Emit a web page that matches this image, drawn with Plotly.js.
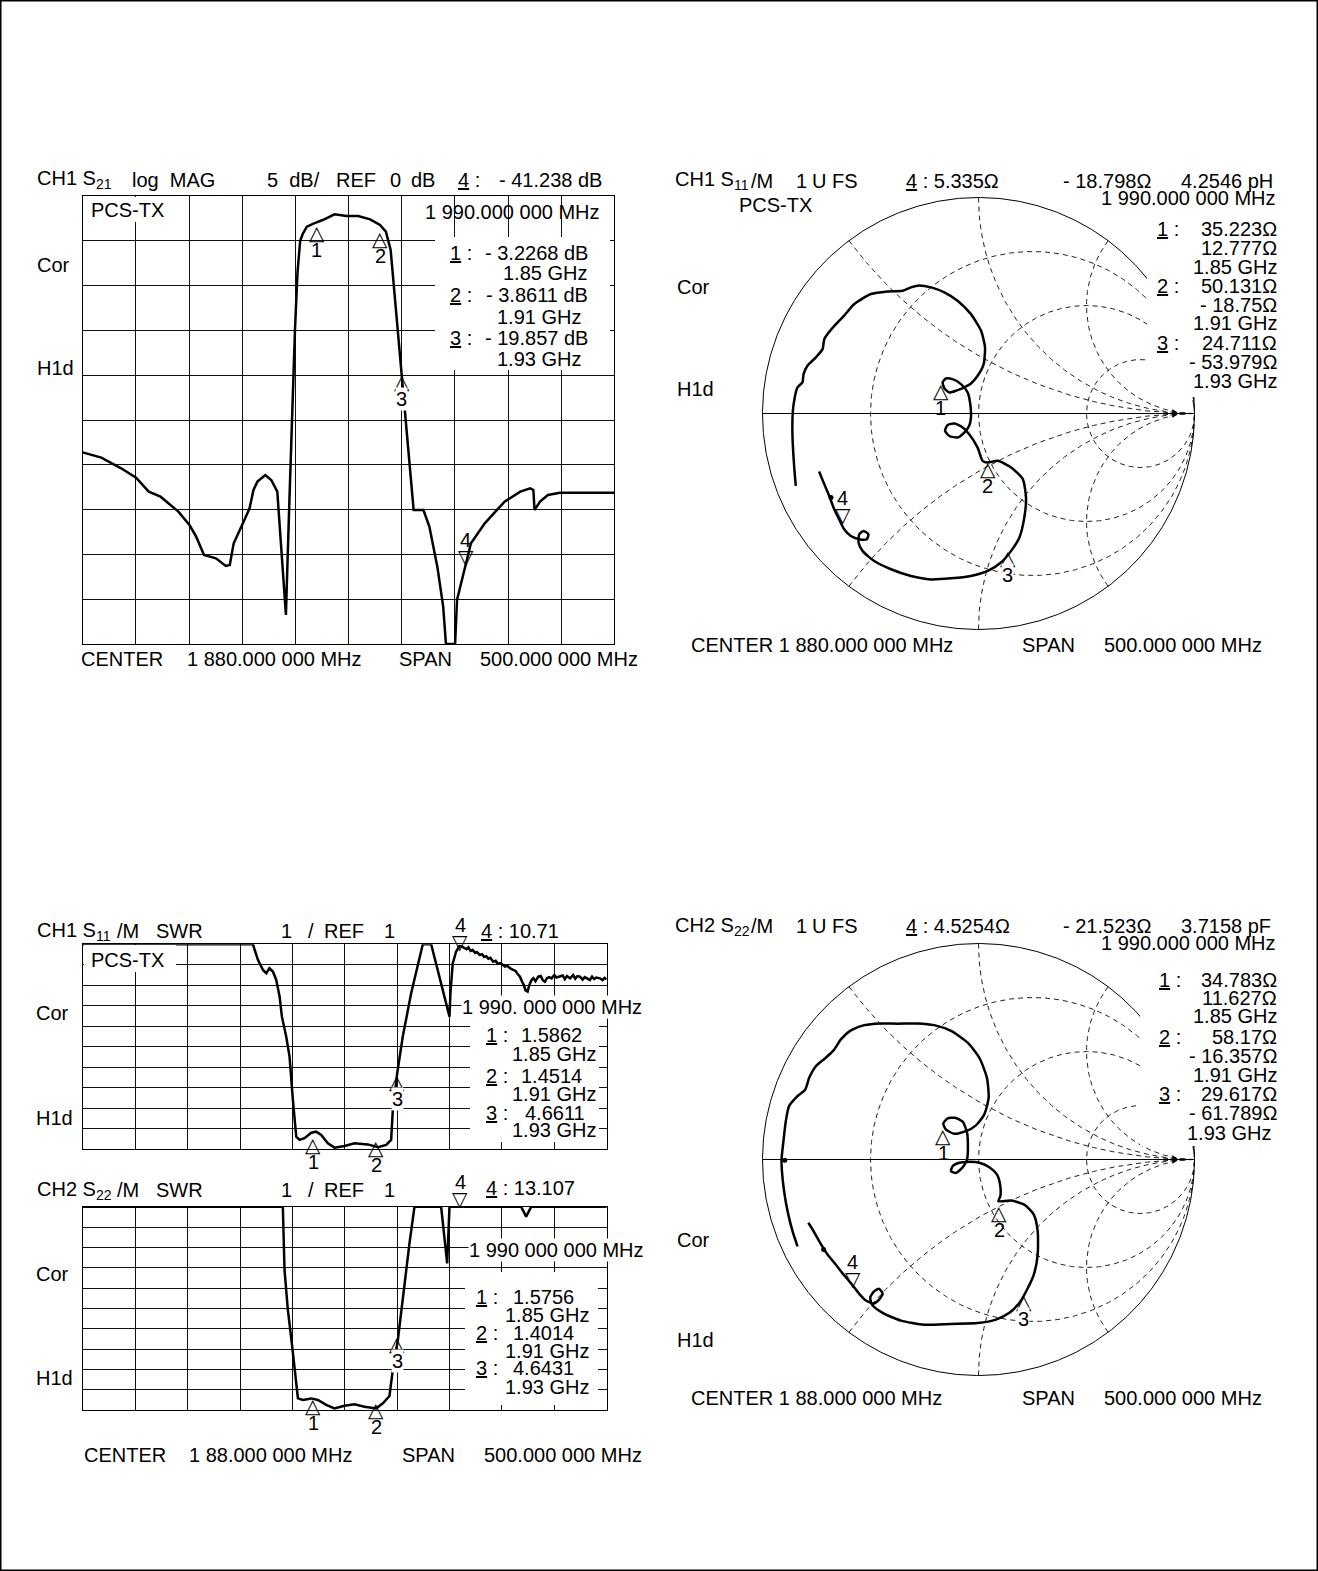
<!DOCTYPE html>
<html><head><meta charset="utf-8">
<script src="https://cdn.plot.ly/plotly-3.0.1.min.js"></script>
<style>body{margin:0;background:#fff}#chart{width:1318px;height:1571px}</style>
</head><body><div id="chart"></div>
<script>
// ---------------- DATA ----------------
// CH1 S21 log MAG (MHz, dB)
const s21Freq = [1630,1647.5,1666.1,1680.2,1692.1,1703.2,1720.0,1730.4,1736.7,1744.1,1755.3,1764.6,1768.3,1772.0,1781.3,1786.9,1790.6,1794.3,1801.7,1807.3,1813.0,1821.1,1824.1,1826.7,1829.6,1832.0,1834.5,1837.1,1840.8,1847.5,1855.7,1866.8,1878.0,1889.1,1900.3,1909.6,1915.1,1919.6,1924.4,1930.0,1932.6,1935.6,1941.2,1950.4,1956.0,1963.5,1969.0,1971.6,1980.2,1982.0,1990.0,1995.1,2008.1,2026.7,2041.5,2050.8,2053.8,2054.9,2060.1,2067.5,2078.7,2130];
const s21Db   = [-28.61,-29.20,-30.39,-31.44,-33.00,-33.56,-35.23,-36.72,-38.02,-40.07,-40.44,-41.29,-41.18,-38.76,-36.35,-34.86,-32.81,-31.88,-31.14,-31.70,-33.00,-46.76,-35.0,-25.0,-15.0,-8.5,-5.0,-4.2,-3.42,-3.05,-2.68,-2.05,-2.23,-2.23,-2.60,-3.24,-3.98,-6.03,-12.35,-19.79,-23.88,-27.60,-35.04,-35.04,-36.90,-41.37,-45.83,-50,-50,-45.09,-41.10,-38.76,-36.53,-34.11,-33.00,-32.63,-32.81,-35.04,-34.11,-33.37,-33.11,-33.11];
const s21MarkFreq = [1850,1910,1930,1990];
const s21MarkDb   = [-3.2268,-3.8611,-19.857,-41.238];

// CH1 S11 SWR (MHz, SWR)
const s11SwrFreq = [1630,1792.2,1797,1801.8,1805,1808,1811.3,1814.5,1817.7,1819.9,1824,1827.2,1830.4,1833.6,1836.7,1841.5,1847.9,1852.6,1857.4,1863.8,1870.1,1879.7,1889.2,1902,1911.5,1919.5,1924.2,1925.8,1930,1935.3,1943.3,1949.7,1954.4,1962.4,1979.9,1980.8,1983,1986.2,1989.4,1991.5,1994,1996.2,1998,2000,2002,2004.5,2006,2008.9,2011,2013,2015,2017,2019,2021.6,2024,2026,2029,2032.8,2035,2038,2040.8,2043,2045,2047.2,2049,2051,2052.5,2054.5,2056,2058.3,2060,2062,2064.7,2067,2069,2071,2073,2075,2077.4,2080,2082,2085.4,2088,2090,2092,2095,2098,2100,2102,2104.5,2107,2109,2112,2114,2116,2118,2120,2123.6,2126,2128,2130];
const s11Swr     = [11,11,10.24,9.75,9.59,9.83,9.67,9.26,8.45,7.47,6.5,5.52,3.41,1.62,1.46,1.54,1.81,1.86,1.70,1.29,1.08,1.16,1.29,1.24,1.10,1.21,1.46,2.92,4.71,6.5,8.61,10.07,11,11,7.47,8.61,10.07,10.64,10.92,10.90,10.82,10.76,10.85,10.68,10.72,10.58,10.62,10.48,10.52,10.38,10.42,10.30,10.34,10.15,10.20,10.05,10.08,9.91,9.95,9.82,9.75,9.70,9.55,9.42,9.20,9.00,8.75,8.69,9.00,9.26,9.35,9.20,9.42,9.45,9.25,9.18,9.35,9.40,9.34,9.50,9.38,9.42,9.48,9.30,9.45,9.34,9.50,9.32,9.45,9.42,9.28,9.40,9.30,9.26,9.42,9.30,9.38,9.34,9.25,9.36,9.30];
// CH2 S22 SWR
const s22SwrFreq = [1630,1820.8,1822.4,1825.6,1829.4,1832,1835.2,1840,1847.9,1854.2,1862.2,1870.1,1879.7,1889.2,1898.8,1909.9,1916.3,1922.6,1925.8,1930.6,1935.3,1941.7,1946.5,1971.9,1977.7,1979.9,2048.3,2053.1,2057.9,2130];
const s22Swr     = [11,11,7.89,5.92,4.28,2.97,1.57,1.49,1.57,1.49,1.25,1.08,1.21,1.28,1.16,1.08,1.33,1.69,2.97,4.44,6.57,9.2,11,11,8.21,11,11,10.51,11,11];
const swrMarkFreq = [1850,1910,1930,1990];
const s11SwrMark  = [1.5862,1.4514,4.6611,10.71];
const s22SwrMark  = [1.5756,1.4014,4.6431,13.107];

// CH1 S11 Smith (reflection coefficient, real / imag)
const s11Re = [-0.846,-0.853,-0.861,-0.861,-0.856,-0.838,-0.815,-0.810,-0.792,-0.753,-0.722,-0.714,-0.699,-0.660,-0.622,-0.575,-0.498,-0.421,-0.351,-0.313,-0.282,-0.220,-0.158,-0.097,-0.035,0.012,0.030,0.024,-0.004,-0.035,-0.066,-0.097,-0.135,-0.158,-0.166,-0.151,-0.120,-0.081,-0.050,-0.038,-0.035,-0.043,-0.066,-0.097,-0.135,-0.155,-0.143,-0.112,-0.073,-0.043,-0.004,0.019,0.043,0.089,0.151,0.205,0.220,0.212,0.189,0.151,0.104,0.043,-0.035,-0.127,-0.220,-0.313,-0.405,-0.483,-0.537,-0.555,-0.552,-0.532,-0.510,-0.517,-0.552,-0.591,-0.622,-0.645,-0.668,-0.691,-0.714,-0.738];
const s11Im = [-0.335,-0.250,-0.111,-0.019,0.043,0.121,0.144,0.182,0.221,0.260,0.298,0.344,0.368,0.414,0.453,0.507,0.553,0.565,0.568,0.584,0.592,0.584,0.561,0.522,0.460,0.383,0.306,0.229,0.175,0.139,0.121,0.108,0.097,0.117,0.144,0.162,0.159,0.136,0.097,0.043,-0.019,-0.057,-0.088,-0.111,-0.104,-0.080,-0.053,-0.046,-0.065,-0.096,-0.158,-0.219,-0.227,-0.219,-0.250,-0.304,-0.389,-0.482,-0.575,-0.636,-0.690,-0.729,-0.752,-0.763,-0.768,-0.752,-0.721,-0.683,-0.636,-0.598,-0.559,-0.544,-0.559,-0.582,-0.582,-0.567,-0.536,-0.490,-0.443,-0.382,-0.327,-0.269];
const s11MarkRe = [-0.174,0.042,0.135,-0.629];
const s11MarkIm = [0.139,-0.222,-0.632,-0.505];
const s11DotRe = [-0.683], s11DotIm = [-0.389];

// CH2 S22 Smith
const s22Re = [-0.838,-0.861,-0.884,-0.900,-0.910,-0.912,-0.903,-0.892,-0.877,-0.838,-0.802,-0.784,-0.753,-0.707,-0.671,-0.637,-0.591,-0.529,-0.452,-0.375,-0.282,-0.205,-0.127,-0.050,0.004,0.039,0.047,0.027,-0.012,-0.058,-0.112,-0.151,-0.163,-0.143,-0.109,-0.073,-0.053,-0.049,-0.053,-0.073,-0.104,-0.127,-0.120,-0.089,-0.050,0.004,0.050,0.086,0.101,0.101,0.092,0.151,0.212,0.256,0.274,0.274,0.256,0.225,0.189,0.143,0.081,-0.004,-0.127,-0.251,-0.359,-0.444,-0.493,-0.501,-0.483,-0.460,-0.444,-0.460,-0.486,-0.521,-0.552,-0.583,-0.622,-0.660,-0.699,-0.733,-0.768,-0.788];
const s22Im = [-0.402,-0.332,-0.239,-0.147,-0.054,0.000,0.085,0.178,0.247,0.293,0.324,0.378,0.432,0.471,0.505,0.556,0.598,0.622,0.630,0.629,0.630,0.622,0.595,0.541,0.471,0.378,0.286,0.209,0.158,0.131,0.119,0.139,0.167,0.190,0.193,0.175,0.124,0.054,0.000,-0.036,-0.062,-0.054,-0.031,-0.015,-0.011,-0.015,-0.036,-0.070,-0.124,-0.170,-0.193,-0.190,-0.209,-0.255,-0.332,-0.440,-0.533,-0.602,-0.664,-0.710,-0.741,-0.757,-0.761,-0.765,-0.746,-0.710,-0.672,-0.638,-0.610,-0.599,-0.621,-0.649,-0.667,-0.653,-0.622,-0.582,-0.536,-0.487,-0.440,-0.386,-0.324,-0.293];
const s22MarkRe = [-0.163,0.097,0.209,-0.583];
const s22MarkIm = [0.144,-0.212,-0.622,-0.592];
const s22DotRe = [-0.897,-0.717], s22DotIm = [-0.003,-0.417];

// Smith chart graticule values
const smithR = [1/3, 1, 3];
const smithX = [0.5, 1, 2, -0.5, -1, -2];
const refArrowRe = [0.907], refArrowIm = [0];

// ---------------- LAYOUT HELPERS ----------------
const W = 1318, H = 1571;
const FONT = '"Liberation Sans", Arial, Helvetica, sans-serif';
const px = x => x / W, py = y => 1 - y / H;
const NB = '\u00a0';
const traces = [];
const ann = [];
const shapes = [];

function T(x, y, text, opt) {
  opt = opt || {};
  ann.push(Object.assign({
    xref: 'paper', yref: 'paper', x: px(x), y: py(y), text: text,
    showarrow: false, xanchor: 'left', yanchor: 'middle', borderpad: 0,
    font: {family: FONT, size: 20, color: '#000'}
  }, opt));
}
const R = {xanchor: 'right'};
function box(x0, y0, x1, y1) {
  shapes.push({type: 'rect', xref: 'paper', yref: 'paper', x0: px(x0), x1: px(x1), y0: py(y1), y1: py(y0),
    fillcolor: '#fff', line: {width: 0}, layer: 'above'});
}
function mark(xr, yr, x, y, down, label, bg) {
  ann.push({xref: xr, yref: yr, x: x, y: y, text: down ? '\u25BD' : '\u25B3', showarrow: false,
    xanchor: 'center', yanchor: 'middle', yshift: down ? 8 : -8, borderpad: 0,
    font: {family: 'DejaVu Sans', size: 20, color: '#000'}});
  ann.push({xref: xr, yref: yr, x: x, y: y, text: label, showarrow: false,
    xanchor: 'center', yanchor: 'middle', yshift: down ? 25 : -25, borderpad: 0,
    bgcolor: bg ? '#fff' : 'rgba(0,0,0,0)', font: {family: FONT, size: 20, color: '#000'}});
}

const TRACE_W = 2.5;
// ---------------- PANEL A : log MAG ----------------
traces.push({type: 'scatter', mode: 'lines', x: s21Freq, y: s21Db, xaxis: 'x', yaxis: 'y',
  line: {color: '#000', width: TRACE_W}, hoverinfo: 'skip'});
s21MarkFreq.forEach((f, i) => mark('x', 'y', f, s21MarkDb[i], i === 3, String(i + 1), i === 2));

// ---------------- PANEL C/D : SWR ----------------
traces.push({type: 'scatter', mode: 'lines', x: s11SwrFreq, y: s11Swr, xaxis: 'x3', yaxis: 'y3',
  line: {color: '#000', width: TRACE_W}, hoverinfo: 'skip'});
traces.push({type: 'scatter', mode: 'lines', x: s22SwrFreq, y: s22Swr, xaxis: 'x4', yaxis: 'y4',
  line: {color: '#000', width: TRACE_W}, hoverinfo: 'skip'});
swrMarkFreq.forEach((f, i) => {
  mark('x3', 'y3', f, Math.min(s11SwrMark[i], 11), i === 3, String(i + 1), i === 2);
  mark('x4', 'y4', f, Math.min(s22SwrMark[i], 11), i === 3, String(i + 1), i === 2);
});

// ---------------- SMITH CHARTS ----------------
function gam(a, b) { const d = (a + 1) * (a + 1) + b * b; return [(a * a + b * b - 1) / d, 2 * b / d]; }
function smith(xa, ya, re, im, mre, mim, dre, dim) {
  const dash = {color: '#222', width: 1, dash: '5px,4px'};
  smithR.forEach(r => {
    const xs = [], ys = [];
    for (let i = 1; i < 800; i++) { const g = gam(r, Math.tan(-Math.PI / 2 + Math.PI * i / 800)); xs.push(g[0]); ys.push(g[1]); }
    traces.push({type: 'scatter', mode: 'lines', x: xs, y: ys, xaxis: xa, yaxis: ya, line: dash, hoverinfo: 'skip'});
  });
  smithX.forEach(xv => {
    const xs = [], ys = [];
    for (let i = 0; i < 800; i++) { const g = gam(Math.tan(Math.PI / 2 * i / 800), xv); xs.push(g[0]); ys.push(g[1]); }
    traces.push({type: 'scatter', mode: 'lines', x: xs, y: ys, xaxis: xa, yaxis: ya, line: dash, hoverinfo: 'skip'});
  });
  const cx = [], cy = [];
  for (let i = 0; i <= 720; i++) { const t = 2 * Math.PI * i / 720; cx.push(Math.cos(t)); cy.push(Math.sin(t)); }
  traces.push({type: 'scatter', mode: 'lines', x: cx, y: cy, xaxis: xa, yaxis: ya, line: {color: '#000', width: 1}, hoverinfo: 'skip'});
  traces.push({type: 'scatter', mode: 'lines', x: [-1, 1], y: [0, 0], xaxis: xa, yaxis: ya, line: {color: '#000', width: 1}, hoverinfo: 'skip'});
  traces.push({type: 'scatter', mode: 'markers', x: refArrowRe, y: refArrowIm, xaxis: xa, yaxis: ya,
    marker: {symbol: 'triangle-right', size: 8, color: '#000'}, hoverinfo: 'skip'});
  traces.push({type: 'scatter', mode: 'lines', x: re, y: im, xaxis: xa, yaxis: ya,
    line: {color: '#000', width: TRACE_W, shape: 'spline', smoothing: 0.6}, hoverinfo: 'skip'});
  traces.push({type: 'scatter', mode: 'markers', x: dre, y: dim, xaxis: xa, yaxis: ya,
    marker: {symbol: 'circle', size: 5, color: '#000'}, hoverinfo: 'skip'});
  mre.forEach((v, i) => mark(xa, ya, v, mim[i], i === 3, String(i + 1), i === 2));
}
smith('x2', 'y2', s11Re, s11Im, s11MarkRe, s11MarkIm, s11DotRe, s11DotIm);
smith('x5', 'y5', s22Re, s22Im, s22MarkRe, s22MarkIm, s22DotRe, s22DotIm);

// ---------------- TEXT ----------------
// Panel A
T(36, 180, 'CH1 S<sub>21</sub>');
T(131, 180, 'log' + NB + NB + 'MAG');
T(266, 180, '5' + NB + NB + 'dB/');
T(335, 180, 'REF'); T(389, 180, '0'); T(410, 180, 'dB');
T(457, 180, '<u>4</u> :'); T(603, 180, '- 41.238 dB', R);
box(84, 197, 172, 222); T(90, 210, 'PCS-TX');
T(601, 211.5, '1 990.000 000 MHz', R);
box(435, 237, 610, 370);
T(449, 253.3, '<u>1</u> :'); T(589, 253.3, '- 3.2268 dB', R);
T(588, 273.3, '1.85 GHz', R);
T(449, 295, '<u>2</u> :'); T(589, 295, '- 3.8611 dB', R);
T(582, 316.7, '1.91 GHz', R);
T(449, 338.3, '<u>3</u> :'); T(589, 338.3, '- 19.857 dB', R);
T(582, 359.3, '1.93 GHz', R);
T(36, 265, 'Cor'); T(36, 368, 'H1d');
T(80, 659, 'CENTER'); T(186, 659, '1 880.000 000 MHz'); T(398, 659, 'SPAN'); T(639, 659, '500.000 000 MHz', R);

// Panel B (S11 Smith)
T(674, 180.7, 'CH1 S<sub>11</sub>'); T(750, 180.7, '/M'); T(795, 180.7, '1'); T(811, 180.7, 'U'); T(831, 180.7, 'FS');
T(905, 180.7, '<u>4</u> : 5.335\u03A9'); T(1062, 180.7, '- 18.798\u03A9'); T(1274, 180.7, '4.2546 pH', R);
T(738, 205, 'PCS-TX');
T(1277, 198, '1 990.000 000 MHz', R);
box(1147, 218, 1286, 397);
T(1156, 229, '<u>1</u> :'); T(1278, 229, '35.223\u03A9', R);
T(1278, 248, '12.777\u03A9', R);
T(1278, 266.5, '1.85 GHz', R);
T(1156, 286, '<u>2</u> :'); T(1278, 286, '50.131\u03A9', R);
T(1278, 305, '- 18.75\u03A9', R);
T(1278, 323.5, '1.91 GHz', R);
T(1156, 343, '<u>3</u> :'); T(1278, 343, '24.711\u03A9', R);
T(1278, 362, '- 53.979\u03A9', R);
T(1278, 381.5, '1.93 GHz', R);
T(676, 287, 'Cor'); T(676, 389, 'H1d');
T(690, 645, 'CENTER 1 880.000 000 MHz'); T(1021, 645, 'SPAN'); T(1263, 645, '500.000 000 MHz', R);

// Panel C (S11 SWR)
T(36, 931, 'CH1 S<sub>11</sub>'); T(116, 931, '/M'); T(155, 931, 'SWR');
T(280, 931, '1'); T(307, 931, '/'); T(323, 931, 'REF'); T(383, 931, '1');
T(480, 931, '<u>4</u> : 10.71');
box(84, 945, 176, 972); T(90, 960, 'PCS-TX');
T(35, 1013, 'Cor'); T(35, 1118, 'H1d');
T(461, 1006.7, '1 990. 000 000 MHz', {bgcolor: '#fff'});
box(470, 1012, 599, 1142);
T(485, 1035, '<u>1</u> :'); T(583, 1035, '1.5862', R);
T(597, 1054, '1.85 GHz', R);
T(485, 1075.7, '<u>2</u> :'); T(583, 1075.7, '1.4514', R);
T(597, 1094.3, '1.91 GHz', R);
T(485, 1113.3, '<u>3</u> :'); T(586, 1113.3, '4.6611', R);
T(597, 1130, '1.93 GHz', R);

// Panel D (S22 SWR)
T(36, 1190, 'CH2 S<sub>22</sub>'); T(116, 1190, '/M'); T(155, 1190, 'SWR');
T(280, 1190, '1'); T(307, 1190, '/'); T(323, 1190, 'REF'); T(383, 1190, '1');
T(485, 1188.3, '<u>4</u> : 13.107');
T(35, 1274, 'Cor'); T(35, 1378, 'H1d');
T(468, 1250, '1 990 000 000 MHz', {bgcolor: '#fff'});
box(465, 1272, 598, 1405);
T(475, 1296.7, '<u>1</u> :'); T(575, 1296.7, '1.5756', R);
T(590, 1315, '1.85 GHz', R);
T(475, 1332.7, '<u>2</u> :'); T(575, 1332.7, '1.4014', R);
T(590, 1351, '1.91 GHz', R);
T(475, 1368.3, '<u>3</u> :'); T(575, 1368.3, '4.6431', R);
T(590, 1386.7, '1.93 GHz', R);
T(83, 1455, 'CENTER'); T(188, 1455, '1 88.000 000 MHz'); T(401, 1455, 'SPAN'); T(643, 1455, '500.000 000 MHz', R);

// Panel E (S22 Smith)
T(674, 926, 'CH2 S<sub>22</sub>'); T(750, 926, '/M'); T(795, 926, '1'); T(811, 926, 'U'); T(831, 926, 'FS');
T(905, 926, '<u>4</u> : 4.5254\u03A9'); T(1062, 926, '- 21.523\u03A9'); T(1272, 926, '3.7158 pF', R);
T(1277, 943, '1 990.000 000 MHz', R);
box(1140, 968, 1286, 1146);
T(1158, 980, '<u>1</u> :'); T(1278, 980, '34.783\u03A9', R);
T(1278, 998, '11.627\u03A9', R);
T(1278, 1016.5, '1.85 GHz', R);
T(1158, 1036.7, '<u>2</u> :'); T(1278, 1036.7, '58.17\u03A9', R);
T(1278, 1056, '- 16.357\u03A9', R);
T(1278, 1075, '1.91 GHz', R);
T(1158, 1094, '<u>3</u> :'); T(1278, 1094, '29.617\u03A9', R);
T(1278, 1113.3, '- 61.789\u03A9', R);
T(1272, 1133, '1.93 GHz', R);
T(676, 1240, 'Cor'); T(676, 1340, 'H1d');
T(690, 1398, 'CENTER 1 88.000 000 MHz'); T(1021, 1398, 'SPAN'); T(1263, 1398, '500.000 000 MHz', R);

// outer frame
shapes.push({type: 'rect', xref: 'paper', yref: 'paper', x0: px(0.75), x1: px(W - 0.75), y0: py(H - 0.75), y1: py(0.75),
  line: {color: '#000', width: 1.5}, fillcolor: 'rgba(0,0,0,0)', layer: 'above'});

// ---------------- AXES ----------------
function gridAxis(d0, d1, range, tick0, dtick) {
  return {domain: [d0, d1], range: range, tick0: tick0, dtick: dtick, showgrid: true, gridcolor: '#111', gridwidth: 1,
    showline: true, mirror: true, linecolor: '#000', linewidth: 1, zeroline: false, showticklabels: false,
    ticks: '', fixedrange: true};
}
function smithAxis(c0, c1) {
  return {domain: [c0, c1], range: [-1.03, 1.03], visible: false, fixedrange: true};
}
const SR = 216 * 1.03;
const cB = [978.5, 413.5], cE = [978.5, 1159.5];

const layout = {
  width: W, height: H, margin: {l: 0, r: 0, t: 0, b: 0, pad: 0},
  paper_bgcolor: '#fff', plot_bgcolor: 'rgba(0,0,0,0)', showlegend: false, hovermode: false,
  font: {family: FONT, size: 20, color: '#000'},
  xaxis:  Object.assign(gridAxis(px(82.7), px(614.4), [1630, 2130], 1630, 50), {anchor: 'y'}),
  yaxis:  Object.assign(gridAxis(py(644), py(196), [-50, 0], 0, 5), {anchor: 'x'}),
  xaxis3: Object.assign(gridAxis(px(83), px(606.7), [1630, 2130], 1630, 50), {anchor: 'y3'}),
  yaxis3: Object.assign(gridAxis(py(1149.3), py(944.3), [1, 11], 1, 1), {anchor: 'x3'}),
  xaxis4: Object.assign(gridAxis(px(83), px(606.7), [1630, 2130], 1630, 50), {anchor: 'y4'}),
  yaxis4: Object.assign(gridAxis(py(1410), py(1206.7), [1, 11], 1, 1), {anchor: 'x4'}),
  xaxis2: Object.assign(smithAxis(px(cB[0] - SR), px(cB[0] + SR)), {anchor: 'y2'}),
  yaxis2: Object.assign(smithAxis(py(cB[1] + SR), py(cB[1] - SR)), {anchor: 'x2'}),
  xaxis5: Object.assign(smithAxis(px(cE[0] - SR), px(cE[0] + SR)), {anchor: 'y5'}),
  yaxis5: Object.assign(smithAxis(py(cE[1] + SR), py(cE[1] - SR)), {anchor: 'x5'}),
  annotations: ann,
  shapes: shapes
};

Plotly.newPlot('chart', traces, layout, {staticPlot: true, displayModeBar: false});
</script>
</body></html>
